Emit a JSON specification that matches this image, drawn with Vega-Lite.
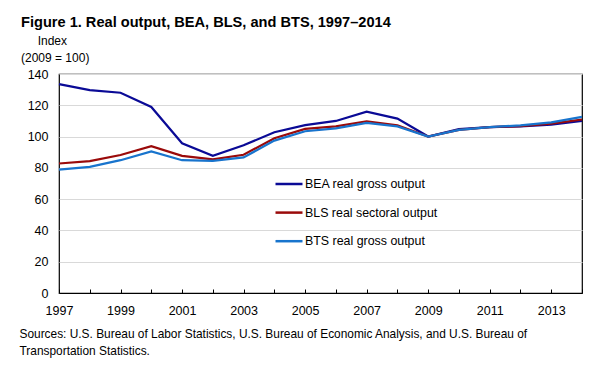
{
  "$schema": "https://vega.github.io/schema/vega-lite/v6.json",
  "width": 523,
  "height": 219,
  "autosize": {"type": "none"},
  "padding": {"left": 59, "top": 74, "right": 22, "bottom": 80},
  "background": "white",
  "config": {
    "font": "Liberation Sans",
    "view": {"stroke": "black", "strokeWidth": 1.2},
    "axis": {"labelFont": "Liberation Sans", "labelColor": "black", "labelFontSize": 12.5}
  },
  "title": {
    "text": "Figure 1. Real output, BEA, BLS, and BTS, 1997–2014",
    "subtitle": ["\u200b\u00a0\u00a0\u00a0\u00a0\u00a0Index", "(2009 = 100)"],
    "anchor": "start",
    "frame": "bounds",
    "dx": 2,
    "font": "Liberation Sans",
    "fontSize": 14.6,
    "fontWeight": "bold",
    "color": "black",
    "subtitleFont": "Liberation Sans",
    "subtitleFontSize": 12,
    "subtitleColor": "black",
    "subtitleLineHeight": 17.3,
    "subtitlePadding": 6,
    "offset": 4
  },
  "datasets": {
    "rows": [
      {"year": 1997, "series": "BEA real gross output", "value": 133.5},
      {"year": 1998, "series": "BEA real gross output", "value": 129.7},
      {"year": 1999, "series": "BEA real gross output", "value": 128.0},
      {"year": 2000, "series": "BEA real gross output", "value": 118.9},
      {"year": 2001, "series": "BEA real gross output", "value": 95.7},
      {"year": 2002, "series": "BEA real gross output", "value": 87.7},
      {"year": 2003, "series": "BEA real gross output", "value": 94.4},
      {"year": 2004, "series": "BEA real gross output", "value": 102.8},
      {"year": 2005, "series": "BEA real gross output", "value": 107.3},
      {"year": 2006, "series": "BEA real gross output", "value": 110.0},
      {"year": 2007, "series": "BEA real gross output", "value": 115.9},
      {"year": 2008, "series": "BEA real gross output", "value": 111.5},
      {"year": 2009, "series": "BEA real gross output", "value": 100.0},
      {"year": 2010, "series": "BEA real gross output", "value": 104.8},
      {"year": 2011, "series": "BEA real gross output", "value": 106.1},
      {"year": 2012, "series": "BEA real gross output", "value": 106.5},
      {"year": 2013, "series": "BEA real gross output", "value": 107.6},
      {"year": 2014, "series": "BEA real gross output", "value": 110.0},
      {"year": 1997, "series": "BLS real sectoral output", "value": 82.8},
      {"year": 1998, "series": "BLS real sectoral output", "value": 84.3},
      {"year": 1999, "series": "BLS real sectoral output", "value": 88.2},
      {"year": 2000, "series": "BLS real sectoral output", "value": 93.8},
      {"year": 2001, "series": "BLS real sectoral output", "value": 87.7},
      {"year": 2002, "series": "BLS real sectoral output", "value": 85.4},
      {"year": 2003, "series": "BLS real sectoral output", "value": 88.4},
      {"year": 2004, "series": "BLS real sectoral output", "value": 98.9},
      {"year": 2005, "series": "BLS real sectoral output", "value": 104.9},
      {"year": 2006, "series": "BLS real sectoral output", "value": 106.5},
      {"year": 2007, "series": "BLS real sectoral output", "value": 109.8},
      {"year": 2008, "series": "BLS real sectoral output", "value": 107.2},
      {"year": 2009, "series": "BLS real sectoral output", "value": 100.0},
      {"year": 2010, "series": "BLS real sectoral output", "value": 104.3},
      {"year": 2011, "series": "BLS real sectoral output", "value": 106.0},
      {"year": 2012, "series": "BLS real sectoral output", "value": 106.7},
      {"year": 2013, "series": "BLS real sectoral output", "value": 108.3},
      {"year": 2014, "series": "BLS real sectoral output", "value": 110.9},
      {"year": 1997, "series": "BTS real gross output", "value": 78.9},
      {"year": 1998, "series": "BTS real gross output", "value": 80.6},
      {"year": 1999, "series": "BTS real gross output", "value": 84.9},
      {"year": 2000, "series": "BTS real gross output", "value": 90.5},
      {"year": 2001, "series": "BTS real gross output", "value": 84.9},
      {"year": 2002, "series": "BTS real gross output", "value": 84.5},
      {"year": 2003, "series": "BTS real gross output", "value": 86.7},
      {"year": 2004, "series": "BTS real gross output", "value": 97.4},
      {"year": 2005, "series": "BTS real gross output", "value": 103.4},
      {"year": 2006, "series": "BTS real gross output", "value": 105.2},
      {"year": 2007, "series": "BTS real gross output", "value": 108.7},
      {"year": 2008, "series": "BTS real gross output", "value": 106.5},
      {"year": 2009, "series": "BTS real gross output", "value": 100.0},
      {"year": 2010, "series": "BTS real gross output", "value": 104.3},
      {"year": 2011, "series": "BTS real gross output", "value": 106.0},
      {"year": 2012, "series": "BTS real gross output", "value": 107.2},
      {"year": 2013, "series": "BTS real gross output", "value": 109.1},
      {"year": 2014, "series": "BTS real gross output", "value": 112.6}
    ]
  },
  "data": {"name": "rows"},
  "mark": {"type": "line", "strokeWidth": 2.2},
  "encoding": {
    "x": {
      "field": "year",
      "type": "quantitative",
      "scale": {"domain": [1997, 2014], "nice": false, "zero": false},
      "axis": {
        "values": [1997, 1998, 1999, 2000, 2001, 2002, 2003, 2004, 2005, 2006, 2007, 2008, 2009, 2010, 2011, 2012, 2013, 2014],
        "format": "d",
        "labelExpr": "datum.value % 2 == 1 && datum.value < 2014 ? datum.label : ''",
        "grid": false,
        "domainColor": "black",
        "domainWidth": 1.2,
        "tickColor": "black",
        "tickSize": -4,
        "labelPadding": 15,
        "labelFlush": false,
        "labelOverlap": false,
        "title": ["Sources: U.S. Bureau of Labor Statistics, U.S. Bureau of Economic Analysis, and U.S. Bureau of", "Transportation Statistics."],
        "titleFont": "Liberation Sans",
        "titleFontSize": 11.9,
        "titleFontWeight": "normal",
        "titleColor": "black",
        "titleAnchor": "start",
        "titleAlign": "left",
        "titleBaseline": "alphabetic",
        "titleLineHeight": 17.7,
        "titleX": -40,
        "titleY": 44.3
      }
    },
    "y": {
      "field": "value",
      "type": "quantitative",
      "scale": {"domain": [0, 140], "nice": false},
      "axis": {
        "values": [0, 20, 40, 60, 80, 100, 120, 140],
        "title": null,
        "domain": false,
        "ticks": false,
        "gridColor": "#d9d9d9",
        "gridWidth": 1.2,
        "labelPadding": 11
      }
    },
    "color": {
      "field": "series",
      "type": "nominal",
      "scale": {
        "domain": ["BEA real gross output", "BLS real sectoral output", "BTS real gross output"],
        "range": ["#0a0a96", "#9a0a0a", "#1874cd"]
      },
      "legend": {
        "title": null,
        "orient": "none",
        "legendX": 215,
        "legendY": 95,
        "symbolType": "stroke",
        "symbolSize": 729,
        "symbolStrokeWidth": 2.5,
        "labelFontSize": 12.4,
        "labelColor": "black",
        "labelOffset": 1,
        "rowPadding": 6.6,
        "labelFont": "Liberation Sans"
      }
    }
  }
}
